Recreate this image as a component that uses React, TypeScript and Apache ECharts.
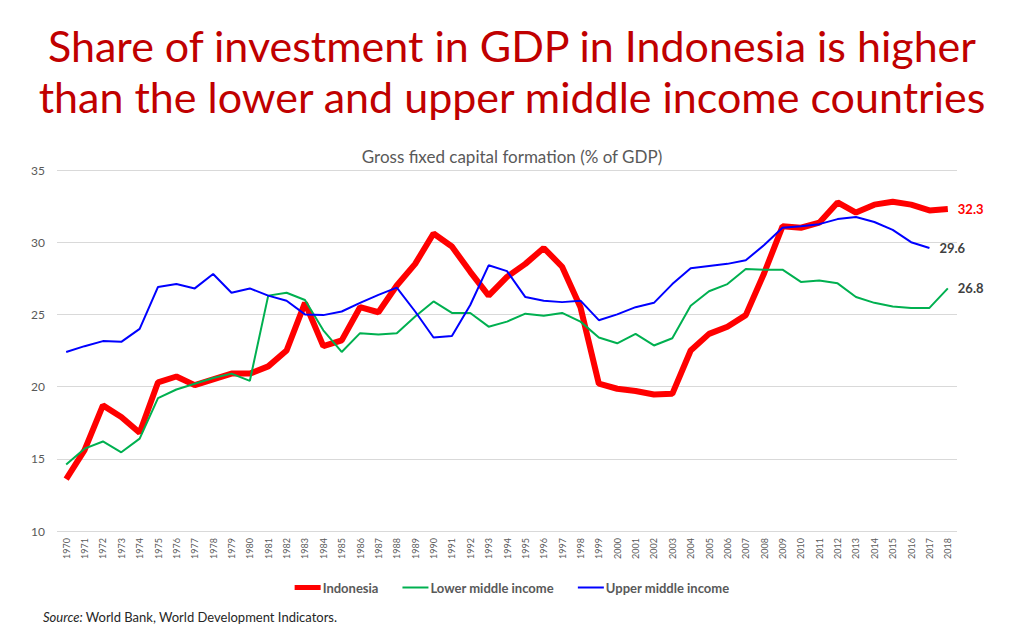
import { useEffect, useRef } from "react";
import * as echarts from "echarts";

const years = [
  "1970", "1971", "1972", "1973", "1974", "1975", "1976", "1977", "1978", "1979",
  "1980", "1981", "1982", "1983", "1984", "1985", "1986", "1987", "1988", "1989",
  "1990", "1991", "1992", "1993", "1994", "1995", "1996", "1997", "1998", "1999",
  "2000", "2001", "2002", "2003", "2004", "2005", "2006", "2007", "2008", "2009",
  "2010", "2011", "2012", "2013", "2014", "2015", "2016", "2017", "2018",
];

const indonesia = [
  13.6, 15.6, 18.7, 17.9, 16.8, 20.3, 20.7, 20.1, 20.5, 20.9,
  20.9, 21.4, 22.5, 25.8, 22.8, 23.2, 25.5, 25.15, 27.0, 28.5,
  30.6, 29.7, 27.95, 26.3, 27.6, 28.5, 29.6, 28.3, 25.5, 20.2,
  19.85, 19.7, 19.45, 19.5, 22.5, 23.65, 24.15, 24.95, 27.85, 31.1,
  31.0, 31.35, 32.75, 32.05, 32.6, 32.8, 32.6, 32.2, 32.3,
];

const lowerMiddle = [
  14.6, 15.7, 16.2, 15.45, 16.4, 19.2, 19.8, 20.2, 20.6, 20.9,
  20.4, 26.3, 26.5, 26.0, 23.9, 22.4, 23.7, 23.6, 23.7, 24.85,
  25.9, 25.1, 25.1, 24.15, 24.5, 25.05, 24.9, 25.1, 24.5, 23.4,
  23.0, 23.65, 22.85, 23.35, 25.6, 26.6, 27.1, 28.15, 28.1, 28.1,
  27.25, 27.35, 27.15, 26.2, 25.8, 25.55, 25.45, 25.45, 26.8,
];

const upperMiddle = [
  22.4, 22.8, 23.15, 23.1, 24.0, 26.9, 27.1, 26.8, 27.8, 26.5,
  26.8, 26.3, 25.95, 25.0, 24.95, 25.2, 25.8, 26.35, 26.85, 25.2,
  23.4, 23.5, 25.65, 28.4, 28.0, 26.2, 25.95, 25.85, 25.95, 24.6,
  25.0, 25.5, 25.8, 27.1, 28.2, 28.35, 28.5, 28.75, 29.8, 31.0,
  31.1, 31.25, 31.6, 31.75, 31.4, 30.85, 30.0, 29.6, null,
];

const FONT = "Lato";
const GRAY = "#595959";

// legend icons: plain line segments, thick one for Indonesia
const THICK_ICON = "path://M0,0 L26,0 L26,5 L0,5 Z";
const THIN_ICON = "path://M0,0 L26,0 L26,2 L0,2 Z";

export default function App() {
  const chartRef = useRef<HTMLDivElement>(null);

  useEffect(() => {
    if (!chartRef.current) return;
    const chart = echarts.init(chartRef.current, undefined, { renderer: "svg" });

    const endLabel = (color: string) => ({
      show: true,
      formatter: (p: any) => Number(p.value).toFixed(1),
      color,
      fontFamily: FONT,
      fontWeight: "bold",
      fontSize: 13,
      distance: 10,
    });

    chart.setOption({
      animation: false,
      backgroundColor: "#ffffff",
      textStyle: { fontFamily: FONT },
      title: [
        {
          text:
            "Share of investment in GDP in Indonesia is higher\nthan the lower and upper middle income countries",
          left: "center",
          top: 15,
          textStyle: {
            color: "#C00000",
            fontFamily: FONT,
            fontWeight: "normal",
            fontSize: 43,
            lineHeight: 51,
          },
        },
        {
          text: "Gross fixed capital formation (% of GDP)",
          left: "center",
          top: 143,
          textStyle: {
            color: GRAY,
            fontFamily: FONT,
            fontWeight: "normal",
            fontSize: 17,
          },
        },
      ],
      grid: {
        left: 57,
        right: 67,
        top: 170,
        bottom: 104,
        containLabel: false,
      },
      legend: {
        top: 576,
        left: "center",
        itemGap: 24,
        itemWidth: 26,
        itemHeight: 14,
        textStyle: {
          color: GRAY,
          fontFamily: FONT,
          fontWeight: "bold",
          fontSize: 13,
          padding: [0, 0, 0, -3],
        },
        data: [
          { name: "Indonesia", icon: THICK_ICON },
          { name: "Lower middle income", icon: THIN_ICON },
          { name: "Upper middle income", icon: THIN_ICON },
        ],
      },
      xAxis: {
        type: "category",
        data: years,
        boundaryGap: true,
        axisLine: { show: false },
        axisTick: { show: false },
        axisLabel: {
          rotate: 90,
          interval: 0,
          color: GRAY,
          fontFamily: FONT,
          fontSize: 9,
          margin: 7,
        },
      },
      yAxis: {
        type: "value",
        min: 10,
        max: 35,
        interval: 5,
        axisLine: { show: false },
        axisTick: { show: false },
        axisLabel: {
          color: GRAY,
          fontFamily: FONT,
          fontSize: 12,
          margin: 12,
        },
        splitLine: { lineStyle: { color: "#d9d9d9", width: 1 } },
      },
      series: [
        {
          name: "Lower middle income",
          type: "line",
          data: lowerMiddle,
          symbol: "none",
          color: "#00B050",
          lineStyle: { color: "#00B050", width: 2 },
          endLabel: endLabel("#404040"),
          z: 2,
        },
        {
          name: "Upper middle income",
          type: "line",
          data: upperMiddle,
          symbol: "none",
          color: "#0000FF",
          lineStyle: { color: "#0000FF", width: 2 },
          endLabel: endLabel("#404040"),
          z: 3,
        },
        {
          name: "Indonesia",
          type: "line",
          data: indonesia,
          symbol: "none",
          color: "#FF0000",
          lineStyle: { color: "#FF0000", width: 6 },
          endLabel: endLabel("#FF0000"),
          z: 1,
        },
      ],
      graphic: [
        {
          type: "text",
          left: 43,
          top: 610,
          style: {
            text: "{i|Source:} World Bank, World Development Indicators.",
            fill: "#262626",
            font: `13px ${FONT}`,
            rich: {
              i: { fontStyle: "italic", fill: "#262626", fontSize: 13, fontFamily: FONT },
            },
          },
        },
      ],
    });

    return () => {
      chart.dispose();
    };
  }, []);

  return (
    <div
      ref={chartRef}
      style={{ position: "fixed", left: 0, top: 0, width: 1024, height: 635 }}
    />
  );
}
